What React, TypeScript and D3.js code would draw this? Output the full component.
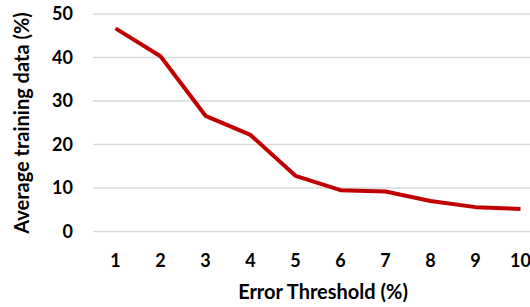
import React from "react";
import * as d3 from "d3";

const categories = ["1", "2", "3", "4", "5", "6", "7", "8", "9", "10"];
const values = [46.7, 40.3, 26.6, 22.2, 12.8, 9.5, 9.2, 7.0, 5.6, 5.2];
const yTicks = [0, 10, 20, 30, 40, 50];

const W = 530;
const H = 307;
const FONT = "Lato, 'Open Sans', sans-serif";

export default function App() {
  const x = d3.scaleBand<string>().domain(categories).range([93, 543]);
  const y = d3.scaleLinear().domain([0, 50]).range([231.5, 14]);
  const line = d3
    .line<number>()
    .x((_, i) => (x(categories[i]) as number) + x.bandwidth() / 2)
    .y((d) => y(d));

  return (
    <svg
      width={W}
      height={H}
      style={{ position: "absolute", left: 0, top: 0, background: "#fff" }}
    >
      {yTicks.map((t) => (
        <g key={t}>
          <line x1={93} x2={W} y1={y(t)} y2={y(t)} stroke="#d9d9d9" strokeWidth={1.5} />
          <text
            x={73}
            y={y(t)}
            dy="0.36em"
            textAnchor="end"
            fontFamily={FONT}
            fontWeight={700}
            fontSize={18}
            fill="#000"
          >
            {t}
          </text>
        </g>
      ))}
      {categories.map((c) => (
        <text
          key={c}
          x={(x(c) as number) + x.bandwidth() / 2}
          y={266.5}
          textAnchor="middle"
          fontFamily={FONT}
          fontWeight={700}
          fontSize={18}
          fill="#000"
        >
          {c}
        </text>
      ))}
      <path
        d={line(values) || ""}
        fill="none"
        stroke="#c00000"
        strokeWidth={4}
        strokeLinejoin="round"
      />
      <text
        x={323}
        y={298.5}
        textAnchor="middle"
        fontFamily={FONT}
        fontWeight={700}
        fontSize={20}
        fill="#000"
      >
        Error Threshold (%)
      </text>
      <text
        transform={`translate(28.5, 123) rotate(-90)`}
        textAnchor="middle"
        fontFamily={FONT}
        fontWeight={700}
        fontSize={20}
        fill="#000"
      >
        Average training data (%)
      </text>
    </svg>
  );
}
